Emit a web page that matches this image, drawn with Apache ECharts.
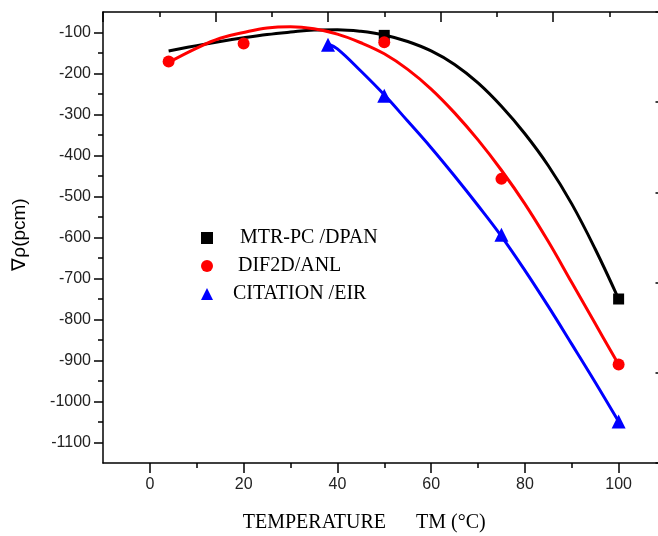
<!DOCTYPE html>
<html>
<head>
<meta charset="utf-8">
<script src="https://cdn.jsdelivr.net/npm/echarts@6/dist/echarts.min.js"></script>
<style>html,body{margin:0;padding:0;background:#fff}#c{width:658px;height:536px}</style>
</head>
<body>
<div id="c"></div>
<script>
// ---- data ----
const seriesNames = ['MTR-PC /DPAN', 'DIF2D/ANL', 'CITATION /EIR'];
// measured points (markers)
const mtrX = [50, 100];
const mtrY = [-107, -750];
const difX = [4, 20, 50, 75, 100];
const difY = [-171, -127, -124, -457, -910];
const citX = [38, 50, 75, 100];
const citY = [-130, -254, -593, -1049];
// fitted curves
const mtrCurveX = [4, 10, 15, 20, 25, 30, 35, 40, 45, 50, 55, 60, 65, 70, 75, 80, 85, 90, 95, 100];
const mtrCurveY = [-145, -132, -122, -113, -105, -99, -94, -93, -97, -106, -122, -145, -178, -223, -280, -347, -425, -518, -628, -750];
const difCurveX = [4, 10, 15, 20, 25, 30, 35, 40, 45, 50, 55, 60, 65, 70, 75, 80, 85, 90, 95, 100];
const difCurveY = [-173, -138, -114, -100, -89, -86, -91, -104, -125, -152, -190, -238, -296, -362, -436, -518, -610, -710, -810, -910];
const citCurveX = [38, 40, 45, 50, 55, 60, 65, 70, 75, 80, 85, 90, 95, 100];
const citCurveY = [-128, -140, -194, -252, -316, -381, -450, -522, -597, -680, -768, -860, -953, -1049];
// tick labels
const xTicks = [0, 20, 40, 60, 80, 100];
const xMinorTicks = [10, 30, 50, 70, 90];
const yTicks = [-100, -200, -300, -400, -500, -600, -700, -800, -900, -1000, -1100];
const yMinorTicks = [-150, -250, -350, -450, -550, -650, -750, -850, -950, -1050];

const zip = (xs, ys) => xs.map((x, i) => [x, ys[i]]);
const lbl = { fontFamily: 'Liberation Sans', fontSize: 16, color: '#222', formatter: v => String(v) };
const axLine = { show: true, onZero: false, lineStyle: { color: '#000', width: 1.5 } };
const noLine = { show: false, onZero: false };
const tickStyle = { color: '#000', width: 1.5 };

const chart = echarts.init(document.getElementById('c'), null, { renderer: 'canvas' });
chart.setOption({
  animation: false,
  backgroundColor: '#fff',
  grid: { left: 103, top: 12, width: 562.5, height: 451, containLabel: false, outerBoundsMode: 'none' },
  legend: {
    orient: 'vertical', left: 196, top: 223, itemGap: 8,
    itemWidth: 12, itemHeight: 12,
    textStyle: { fontFamily: 'Liberation Serif', fontSize: 20, color: '#000' },
    data: [
      { name: seriesNames[0], textStyle: { padding: [0, 0, 0, 22] } },
      { name: seriesNames[1], textStyle: { padding: [0, 0, 0, 20] } },
      { name: seriesNames[2], textStyle: { padding: [0, 0, 0, 15] } }
    ]
  },
  xAxis: [
    { type: 'value', position: 'bottom', min: -10, max: 110,
      axisLine: axLine, splitLine: { show: false },
      axisTick: { show: true, inside: false, length: 10, customValues: xTicks, lineStyle: tickStyle },
      axisLabel: { ...lbl, margin: 14, customValues: xTicks },
      name: 'TEMPERATURE      TM (°C)', nameLocation: 'middle', nameGap: 50,
      nameTextStyle: { fontFamily: 'Liberation Serif', fontSize: 20, color: '#000', padding: [0, 40, 0, 0] } },
    { type: 'value', position: 'bottom', min: -10, max: 110,
      axisLine: noLine, splitLine: { show: false },
      axisTick: { show: true, inside: false, length: 5, customValues: xMinorTicks, lineStyle: tickStyle },
      axisLabel: { show: false } },
    { type: 'value', position: 'top', min: 0, max: 10, interval: 2,
      axisLine: axLine, splitLine: { show: false },
      axisTick: { show: true, inside: true, length: 10, lineStyle: tickStyle },
      minorTick: { show: true, splitNumber: 2, length: 5, lineStyle: tickStyle },
      minorSplitLine: { show: false },
      axisLabel: { show: false } }
  ],
  yAxis: [
    { type: 'value', position: 'left', min: -1150, max: -50,
      axisLine: axLine, splitLine: { show: false },
      axisTick: { show: true, inside: false, length: 9, customValues: yTicks, lineStyle: tickStyle },
      axisLabel: { ...lbl, margin: 12, customValues: yTicks },
      name: '\u2207\u03c1(pcm)', nameLocation: 'middle', nameGap: 74,
      nameTextStyle: { fontFamily: 'Liberation Sans', fontSize: 19, color: '#000', padding: [0, 0, 0, 6] } },
    { type: 'value', position: 'left', min: -1150, max: -50,
      axisLine: noLine, splitLine: { show: false },
      axisTick: { show: true, inside: false, length: 5, customValues: yMinorTicks, lineStyle: tickStyle },
      axisLabel: { show: false } },
    { type: 'value', position: 'right', min: 0, max: 5, interval: 1,
      axisLine: axLine, splitLine: { show: false },
      axisTick: { show: true, inside: true, length: 10, lineStyle: tickStyle },
      axisLabel: { show: false } }
  ],
  series: [
    { type: 'line', smooth: 0.4, showSymbol: false, data: zip(mtrCurveX, mtrCurveY),
      lineStyle: { color: '#000', width: 3 }, silent: true, z: 2 },
    { type: 'line', smooth: 0.4, showSymbol: false, data: zip(difCurveX, difCurveY),
      lineStyle: { color: '#ff0000', width: 3 }, silent: true, z: 2 },
    { type: 'line', smooth: 0.4, showSymbol: false, data: zip(citCurveX, citCurveY),
      lineStyle: { color: '#0000ff', width: 3 }, silent: true, z: 2 },
    { name: seriesNames[0], type: 'scatter', symbol: 'rect', symbolSize: 11,
      itemStyle: { color: '#000', opacity: 1 }, data: zip(mtrX, mtrY), z: 3 },
    { name: seriesNames[1], type: 'scatter', symbol: 'circle', symbolSize: 12,
      itemStyle: { color: '#ff0000', opacity: 1 }, data: zip(difX, difY), z: 3 },
    { name: seriesNames[2], type: 'scatter', symbol: 'triangle', symbolSize: 14,
      itemStyle: { color: '#0000ff', opacity: 1 }, data: zip(citX, citY), z: 3 }
  ]
});
</script>
</body>
</html>
